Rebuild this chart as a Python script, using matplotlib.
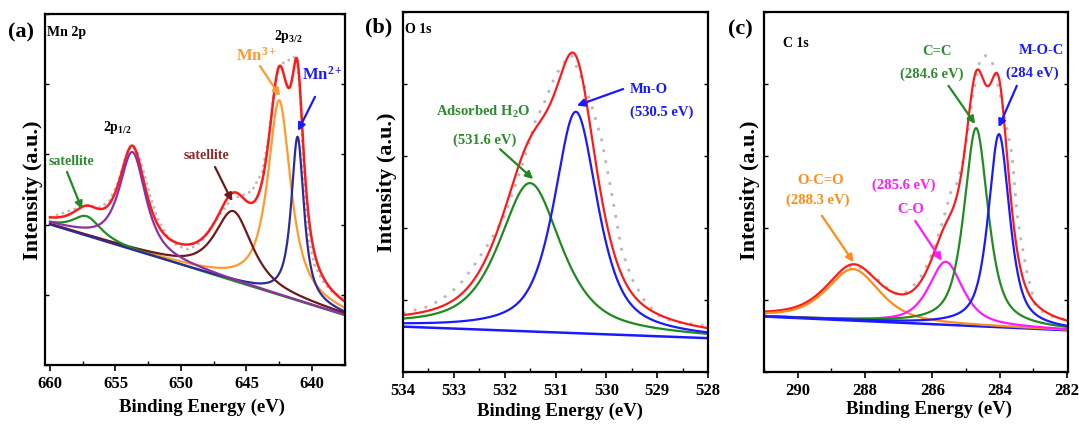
import numpy as np
import matplotlib
matplotlib.use("Agg")
import matplotlib.pyplot as plt
from matplotlib.ticker import MultipleLocator, NullFormatter

plt.rcParams["font.family"] = ["Liberation Serif", "DejaVu Serif"]
plt.rcParams["font.weight"] = "bold"
plt.rcParams["mathtext.fontset"] = "custom"
plt.rcParams["mathtext.rm"] = "Liberation Serif:bold"
plt.rcParams["mathtext.it"] = "Liberation Serif:bold:italic"
plt.rcParams["mathtext.bf"] = "Liberation Serif:bold"

# ---- Mn 2p: fitted components (centre eV, height above background, FWHM eV, Lorentz share)
mn_names = ["satellite_657", "2p1/2", "satellite_646", "Mn3+", "Mn2+"]
mn_centers = [657.2, 653.7, 646.0, 642.5, 641.1]
mn_heights = [5.6, 27.9, 19.9, 55.5, 46.7]
mn_fwhm = [2.6, 2.4, 3.4, 2.1, 1.15]
mn_eta = [0.8, 0.8, 0.8, 0.9, 0.9]
mn_background = [40.0, 14.2]          # at 660 eV and 637.5 eV
mn_range = [660.0, 637.5]
mn_raw_e = [660, 659, 658, 657.2, 656.3, 655.5, 654.8, 654.3, 653.8, 653.3, 652.8,
            652.3, 651.7, 651.0, 650.3, 649.5, 648.8, 648.2, 647.5, 646.8, 646.1,
            645.4, 644.6, 643.8, 643.3, 642.9, 642.5, 641.8, 641.2, 640.9, 640.7,
            640.5, 640.2, 639.8, 639.2, 638.5, 637.5]
mn_raw_i = [42.0, 43.3, 44.6, 45.3, 44.8, 46.5, 52.0, 58.5, 62.3, 60.5, 54.5,
            47.5, 41.0, 36.5, 34.0, 33.0, 34.0, 36.5, 40.5, 44.0, 47.5,
            48.2, 49.5, 55.0, 65.0, 78.0, 85.5, 86.8, 88.0, 78.0, 60.0,
            45.0, 35.0, 28.5, 24.0, 21.0, 18.8]

# ---- O 1s
o_names = ["Adsorbed H2O", "Mn-O"]
o_centers = [531.5, 530.6]
o_heights = [41.2, 61.5]
o_fwhm = [1.45, 1.02]
o_eta = [0.7, 0.7]
o_background = [12.6, 9.4]            # at 534 eV and 528 eV
o_range = [534.0, 528.0]
o_raw_e = [534, 533.5, 533.2, 532.9, 532.65, 532.3, 532.0, 531.8, 531.6, 531.4,
           531.2, 531.0, 530.8, 530.68, 530.5, 530.3, 530.1, 529.9, 529.7, 529.5,
           529.27, 529.0, 528.88, 528.5, 528.0]
o_raw_i = [16.3, 18.2, 20.6, 24.0, 28.6, 36.0, 43.5, 51.5, 60.0, 69.5,
           75.5, 82.5, 86.5, 88.0, 82.0, 74.5, 65.0, 50.0, 34.0, 26.0,
           20.3, 16.0, 14.8, 13.6, 12.8]

# ---- C 1s
c_names = ["O-C=O", "C-O", "C=C", "M-O-C"]
c_centers = [288.35, 285.6, 284.7, 284.02]
c_heights = [14.3, 17.5, 55.0, 53.6]
c_fwhm = [1.85, 1.2, 0.85, 0.75]
c_eta = [0.6, 0.7, 0.7, 0.7]
c_background = [15.4, 11.6]           # at 291 eV and 282 eV
c_range = [291.0, 282.0]
c_raw_e = [291, 290.5, 290.1, 289.6, 289.2, 288.8, 288.4, 288.0, 287.6, 287.2,
           286.9, 286.6, 286.3, 286.0, 285.7, 285.45, 285.3, 285.12, 284.97, 284.78,
           284.58, 284.43, 284.23, 283.93, 283.63, 283.49, 283.39, 283.19, 282.94,
           282.6, 282.0]
c_raw_i = [16.3, 16.8, 17.5, 19.5, 22.5, 26.5, 29.6, 28.5, 25.5, 22.2,
           21.4, 23.5, 27.0, 33.0, 41.5, 50.0, 51.5, 57.3, 64.7, 77.7,
           86.9, 87.9, 86.5, 74.9, 60.1, 44.4, 37.9, 27.7, 18.4,
           15.8, 14.5]

RED = "#ff1a1a"
RAW = "#b8b8b8"
W, H = 1079, 427


def pseudo_voigt(x, c, h, w, eta):
    lor = 1.0 / (1.0 + ((x - c) / (w / 2.0)) ** 2)
    gau = np.exp(-4.0 * np.log(2.0) * ((x - c) / w) ** 2)
    return h * (eta * lor + (1.0 - eta) * gau)


def components(x, rng, bg, centers, heights, fwhm, eta):
    base = bg[0] + (bg[1] - bg[0]) * (x - rng[0]) / (rng[1] - rng[0])
    peaks = [pseudo_voigt(x, c, h, w, e) for c, h, w, e in zip(centers, heights, fwhm, eta)]
    return base, peaks


def add_axes(left, top, right, bottom):
    return fig.add_axes([left / W, 1 - bottom / H, (right - left) / W, (bottom - top) / H])


def style_axes(ax, xlim, major, minor):
    ax.set_xlim(*xlim)
    ax.set_ylim(0, 100)
    ax.xaxis.set_major_locator(MultipleLocator(major))
    ax.xaxis.set_minor_locator(MultipleLocator(minor))
    ax.yaxis.set_major_locator(MultipleLocator(20))
    ax.yaxis.set_major_formatter(NullFormatter())
    ax.tick_params(axis="x", which="major", direction="out", length=4, width=1.2,
                   labelsize=12, pad=3)
    ax.tick_params(axis="x", which="minor", direction="in", length=3, width=1.0)
    ax.tick_params(axis="y", which="major", direction="in", length=3, width=1.0,
                   left=True, right=True)
    for spine in ax.spines.values():
        spine.set_linewidth(1.6)
    for lab in ax.get_xticklabels():
        lab.set_fontweight("bold")


def arrow(ax, start, end, color):
    ax.annotate("", xy=end, xytext=start,
                arrowprops=dict(arrowstyle="-|>", color=color, lw=1.6,
                                mutation_scale=11, shrinkA=0, shrinkB=0))


fig = plt.figure(figsize=(W / 100, H / 100), dpi=100)

# ---------------- (a) Mn 2p
ax_a = add_axes(45, 15, 345, 366)
x = np.linspace(mn_range[0], mn_range[1], 900)
base, peaks = components(x, mn_range, mn_background, mn_centers, mn_heights, mn_fwhm, mn_eta)
ax_a.plot(mn_raw_e, mn_raw_i, ls=(0, (1, 1.5)), color=RAW, lw=1.8)
ax_a.plot(x, base + sum(peaks), color=RED, lw=1.8)
mn_cols = {"satellite_657": "#238b23", "2p1/2": "#8e2fa6", "satellite_646": "#6e1a1a",
           "Mn3+": "#ff9a2e", "Mn2+": "#2b2b9c"}
for name in ["Mn3+", "satellite_646", "satellite_657", "Mn2+", "2p1/2"]:
    i = mn_names.index(name)
    ax_a.plot(x, base + peaks[i], color=mn_cols[name], lw=1.6)
style_axes(ax_a, (660.38, 637.48), 5, 2.5)
ax_a.text(0.008, 0.968, "Mn 2p", transform=ax_a.transAxes, ha="left", va="top", fontsize=10)
ax_a.text(641.83, 94.0, r"$\mathrm{2p_{3/2}}$", ha="center", va="center", fontsize=10)
ax_a.text(654.89, 68.0, r"$\mathrm{2p_{1/2}}$", ha="center", va="center", fontsize=10)
ax_a.text(644.27, 88.5, r"Mn$^{3+}$", ha="center", va="center", fontsize=12, color="#ff9a2e")
ax_a.text(639.24, 83.0, r"Mn$^{2+}$", ha="center", va="center", fontsize=12, color="#1a1aff")
ax_a.text(658.32, 58.3, "satellite", ha="center", va="center", fontsize=10, color="#2e8b2e")
ax_a.text(648.09, 60.0, "satellite", ha="center", va="center", fontsize=10, color="#8b2a2a")
arrow(ax_a, (658.70, 55.0), (657.56, 44.4), "#238b23")
arrow(ax_a, (647.40, 56.4), (646.11, 46.7), "#6e1a1a")
arrow(ax_a, (643.97, 85.2), (642.44, 76.6), "#ff9a2e")
arrow(ax_a, (639.77, 76.4), (641.07, 66.7), "#1a1aff")

# ---------------- (b) O 1s
ax_b = add_axes(403, 13, 708, 373)
x = np.linspace(o_range[0], o_range[1], 900)
base, peaks = components(x, o_range, o_background, o_centers, o_heights, o_fwhm, o_eta)
ax_b.plot(o_raw_e, o_raw_i, ls=(0, (1, 3)), color=RAW, lw=2.0)
ax_b.plot(x, base, color="#1a1aff", lw=1.8)
ax_b.plot(x, base + sum(peaks), color=RED, lw=1.6)
ax_b.plot(x, base + peaks[0], color="#1f8a1f", lw=1.6)
ax_b.plot(x, base + peaks[1], color="#1a1aff", lw=1.6)
style_axes(ax_b, (534, 528), 1, 0.5)
ax_b.text(0.008, 0.972, "O 1s", transform=ax_b.transAxes, ha="left", va="top", fontsize=10)
ax_b.text(532.42, 72.6, r"Adsorbed H$_2$O", ha="center", va="center", fontsize=10.5, color="#2e8b2e")
ax_b.text(532.39, 64.6, "(531.6 eV)", ha="center", va="center", fontsize=10.5, color="#2e8b2e")
ax_b.text(529.16, 78.8, "Mn-O", ha="center", va="center", fontsize=10.5, color="#1a1aff")
ax_b.text(528.91, 72.4, "(530.5 eV)", ha="center", va="center", fontsize=10.5, color="#1a1aff")
arrow(ax_b, (532.09, 61.9), (531.44, 53.6), "#1f8a1f")
arrow(ax_b, (529.67, 78.6), (530.58, 74.0), "#1a1aff")

# ---------------- (c) C 1s
ax_c = add_axes(764, 13, 1068, 373)
x = np.linspace(c_range[0], c_range[1], 900)
base, peaks = components(x, c_range, c_background, c_centers, c_heights, c_fwhm, c_eta)
ax_c.plot(c_raw_e, c_raw_i, ls=(0, (1, 3)), color=RAW, lw=2.0)
ax_c.plot(x, base, color="#1a1aff", lw=1.8)
ax_c.plot(x, base + sum(peaks), color=RED, lw=1.6)
c_cols = ["#ff8c1a", "#ff1aff", "#228b22", "#1a1aff"]
for i in range(len(c_names)):
    ax_c.plot(x, base + peaks[i], color=c_cols[i], lw=1.6)
style_axes(ax_c, (291.0, 281.97), 2, 1)
ax_c.text(0.0625, 0.933, "C 1s", transform=ax_c.transAxes, ha="left", va="top", fontsize=10)
ax_c.text(285.87, 89.3, "C=C", ha="center", va="center", fontsize=10.5, color="#2e8b2e")
ax_c.text(286.02, 82.9, "(284.6 eV)", ha="center", va="center", fontsize=10.5, color="#2e8b2e")
ax_c.text(282.75, 89.7, "M-O-C", ha="center", va="center", fontsize=10.5, color="#1a1aff")
ax_c.text(283.03, 83.2, "(284 eV)", ha="center", va="center", fontsize=10.5, color="#1a1aff")
ax_c.text(289.33, 53.5, "O-C=O", ha="center", va="center", fontsize=10.5, color="#ff8c1a")
ax_c.text(289.41, 47.9, "(288.3 eV)", ha="center", va="center", fontsize=10.5, color="#ff8c1a")
ax_c.text(286.84, 52.1, "(285.6 eV)", ha="center", va="center", fontsize=10.5, color="#ff1aff")
ax_c.text(286.64, 45.4, "C-O", ha="center", va="center", fontsize=10.5, color="#ff1aff")
arrow(ax_c, (285.52, 79.5), (284.73, 68.9), "#228b22")
arrow(ax_c, (283.49, 79.5), (284.03, 68.0), "#1a1aff")
arrow(ax_c, (289.28, 43.4), (288.34, 30.5), "#ff8c1a")
arrow(ax_c, (286.51, 42.0), (285.72, 30.9), "#ff1aff")

# ---------------- panel letters and axis titles
for lab, px, py in [("(a)", 21, 32), ("(b)", 379, 27), ("(c)", 740, 29)]:
    fig.text(px / W, 1 - py / H, lab, ha="center", va="center", fontsize=16)
for px, py in [(33, 190), (387, 182), (750, 190)]:
    fig.text(px / W, 1 - py / H, "Intensity (a.u.)", rotation=90, ha="center",
             va="center", fontsize=16)
for px, py in [(202, 407), (560, 411), (929, 409)]:
    fig.text(px / W, 1 - py / H, "Binding Energy (eV)", ha="center", va="center", fontsize=13.5)

fig.savefig("out.png", dpi=100)
